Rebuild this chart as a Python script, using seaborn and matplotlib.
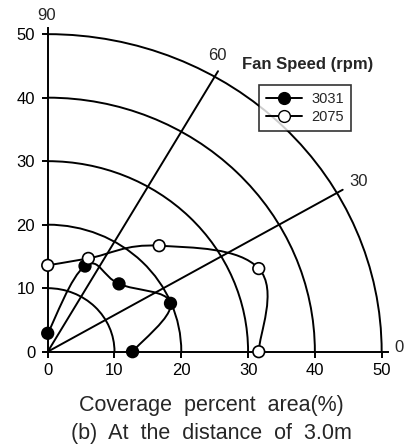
import numpy as np
import pandas as pd
import seaborn as sns
import matplotlib
matplotlib.use("Agg")
import matplotlib.pyplot as plt
from matplotlib.patches import Arc, PathPatch
from matplotlib.path import Path
from matplotlib.lines import Line2D

# 数据：角度(度)与覆盖面积(%)
angles = [0, 22.5, 45, 67.5, 90]
r_3031 = [12.7, 19.9, 15.1, 14.6, 2.9]
r_2075 = [31.6, 34.2, 23.6, 15.9, 13.6]
speeds = ["3031", "2075"]
rings = [10, 20, 30, 40, 50]
spokes = [30, 60]
ticks = [0, 10, 20, 30, 40, 50]


def smooth_path(x, y):
    """ Catmull-Rom 曲线转三次贝塞尔路径 """
    pts = np.column_stack([x, y])
    n = len(pts)
    verts = [pts[0]]
    codes = [Path.MOVETO]
    for i in range(n - 1):
        p0 = pts[i - 1] if i > 0 else pts[i]
        p1 = pts[i]
        p2 = pts[i + 1]
        p3 = pts[i + 2] if i + 2 < n else pts[i + 1]
        verts += [p1 + (p2 - p0) / 5, p2 - (p3 - p1) / 5, p2]
        codes += [Path.CURVE4] * 3
    return Path(verts, codes)


rows = []
for speed, rs in zip(speeds, [r_3031, r_2075]):
    for a, r in zip(angles, rs):
        rows.append([speed, a, r, r * np.cos(np.radians(a)), r * np.sin(np.radians(a))])
df = pd.DataFrame(rows, columns=["speed", "angle", "r", "x", "y"])

sns.set_theme(style="ticks")
plt.rcParams['font.family'] = ['Liberation Sans', 'DejaVu Sans']

LW = 1.4
fig = plt.figure(figsize=(4.06, 4.47), dpi=100)
ax = fig.add_axes([0.1175, 0.2132, 0.839, 0.7246])

# 同心圆弧与射线
for r in rings:
    ax.add_patch(Arc((0, 0), 2 * r, 2 * r, theta1=0, theta2=90, lw=LW,
                     color="black", clip_on=False, zorder=2))
for a in spokes:
    ax.plot([0, 51 * np.cos(np.radians(a))], [0, 51 * np.sin(np.radians(a))],
            color="black", lw=LW, clip_on=False, zorder=2)

# 平滑曲线
for speed in speeds:
    sub = df[df["speed"] == speed]
    ax.add_patch(PathPatch(smooth_path(sub["x"].values, sub["y"].values), fill=False,
                           ec="black", lw=LW, zorder=3, clip_on=False))

sns.scatterplot(data=df, x="x", y="y", hue="speed", palette={"3031": "black", "2075": "white"},
                edgecolor="black", linewidth=1.2, s=70, legend=False, zorder=5,
                clip_on=False, ax=ax)

# 角度标签
ax.text(52.6, 0.6, "0", ha="center", va="center", fontsize=12)
ax.text(46.5, 26.8, "30", ha="center", va="center", fontsize=12)
ax.text(25.4, 46.7, "60", ha="center", va="center", fontsize=12)
ax.text(-0.1, 53.0, "90", ha="center", va="center", fontsize=12, clip_on=False)

ax.set_xlim(0, 51)
ax.set_ylim(0, 51)
ax.set_xticks(ticks)
ax.set_yticks(ticks)
ax.set_xlabel("")
ax.set_ylabel("")
ax.tick_params(direction="out", length=4, width=LW, labelsize=12, colors="black")
ax.tick_params(axis="x", pad=4)
ax.tick_params(axis="y", pad=5)
sns.despine(ax=ax)
for sp in ["left", "bottom"]:
    ax.spines[sp].set_linewidth(LW)
    ax.spines[sp].set_color("black")

# 图例
handles = [
    Line2D([], [], color="black", marker="o", mfc="black", mec="black", ms=8.5, lw=LW),
    Line2D([], [], color="black", marker="o", mfc="white", mec="black", ms=8.5, lw=LW),
]
leg = fig.legend(handles, speeds, loc="upper left", bbox_to_anchor=(0.637, 0.810),
                 frameon=True, fancybox=False, edgecolor="black", fontsize=10.5,
                 handlelength=2.5, borderpad=0.5, labelspacing=0.25, handletextpad=0.6,
                 borderaxespad=0)
leg.get_frame().set_linewidth(1.2)
fig.text(308 / 406, 1 - 65 / 447, "Fan Speed (rpm)", ha="center", va="center",
         fontweight="bold", fontsize=12)

fig.text(211 / 406, 1 - 406 / 447, "Coverage  percent  area(%)", ha="center", va="center", fontsize=15.5)
fig.text(211 / 406, 1 - 433 / 447, "(b)  At  the  distance  of  3.0m", ha="center", va="center", fontsize=15.5)

fig.savefig("out.png", dpi=100)
